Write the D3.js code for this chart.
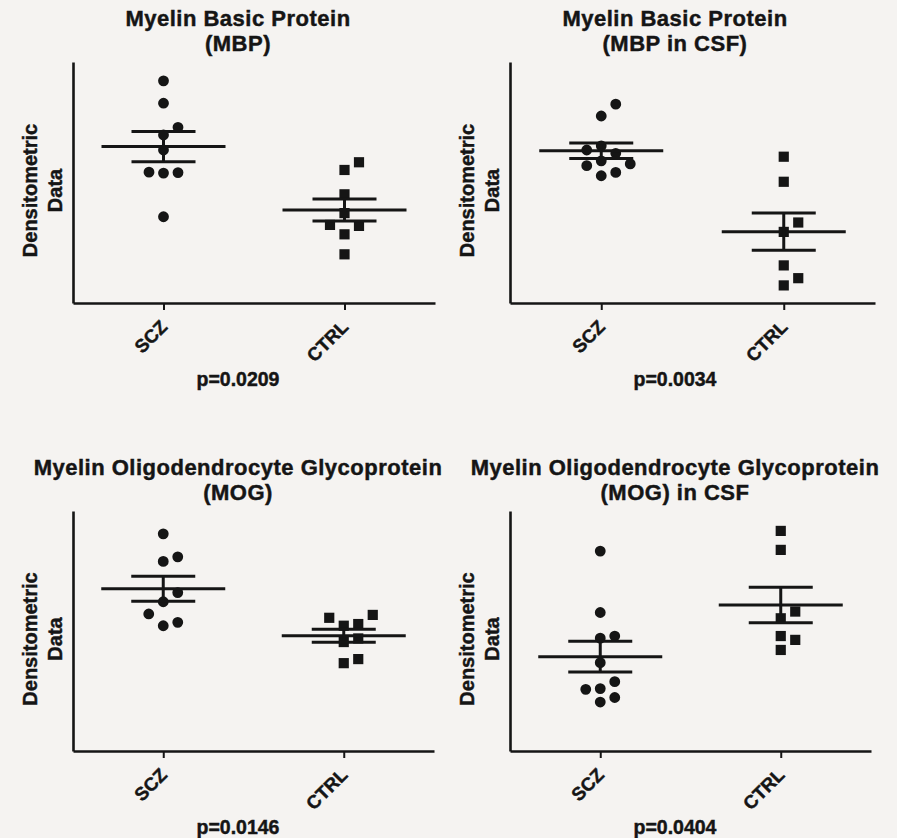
<!DOCTYPE html>
<html><head><meta charset="utf-8">
<script src="https://cdn.jsdelivr.net/npm/d3@7"></script>
<style>
html,body{margin:0;padding:0;background:#f5f3f1;}
svg{display:block;}
text{font-family:"Liberation Sans",Arial,Helvetica,sans-serif;font-weight:bold;fill:#151515;stroke:#151515;stroke-width:0.45px;}
</style></head><body>
<svg id="chart" width="897" height="838"></svg>
<script>
// ---- data (arbitrary densitometric units 0-100) ----
const categories = ["SCZ", "CTRL"];
const panelTitles = [
  ["Myelin Basic Protein", "(MBP)"],
  ["Myelin Basic Protein", "(MBP in CSF)"],
  ["Myelin Oligodendrocyte Glycoprotein", "(MOG)"],
  ["Myelin Oligodendrocyte Glycoprotein", "(MOG) in CSF"]
];
const pValues = ["p=0.0209", "p=0.0034", "p=0.0146", "p=0.0404"];
const yLabelLines = ["Densitometric", "Data"];

const mbpSCZ = [92.2, 82.9, 72.9, 69.7, 63.5, 54.3, 54.1, 53.9, 35.8];
const mbpCTRL = [58.4, 55.2, 45.1, 37.3, 32.4, 32.0, 28.5, 20.2];
const mbpCsfSCZ = [82.5, 77.6, 65.2, 63.5, 62.1, 59.0, 57.7, 57.0, 54.2, 52.8];
const mbpCsfCTRL = [60.7, 50.3, 33.4, 29.5, 15.6, 10.3, 7.3];
const mogSCZ = [90.5, 80.9, 79.0, 66.0, 62.2, 57.1, 53.6, 52.2];
const mogCTRL = [56.7, 55.5, 52.9, 52.2, 46.9, 45.4, 38.3, 36.6];
const mogCsfSCZ = [83.3, 57.7, 47.9, 47.0, 36.8, 28.9, 26.0, 25.7, 22.3, 20.4];
const mogCsfCTRL = [91.7, 83.8, 58.1, 55.3, 47.9, 46.3, 42.1];

const meanSCZ = [64.9, 63.2, 67.6, 39.3];
const semSCZ = [6.3, 3.2, 5.2, 6.4];
const meanCTRL = [38.6, 29.6, 48.0, 60.8];
const semCTRL = [4.6, 7.7, 2.7, 7.4];

const groupSCZ = [mbpSCZ, mbpCsfSCZ, mogSCZ, mogCsfSCZ];
const groupCTRL = [mbpCTRL, mbpCsfCTRL, mogCTRL, mogCsfCTRL];

// ---- layout ----
const panels = [
  {x0: 73, x1: 435, top: 62, bottom: 303},
  {x0: 510, x1: 875, top: 62, bottom: 303},
  {x0: 73, x1: 434, top: 511, bottom: 751},
  {x0: 510, x1: 871, top: 511, bottom: 751}
];
const ink = "#151515";
const svg = d3.select("#chart");

function swarm(values, y, cx, thr, step) {
  const order = values.map((v, i) => i).sort((a, b) => values[a] - values[b]);
  const placed = [];
  const out = new Array(values.length);
  for (const i of order) {
    const py = y(values[i]);
    for (let k = 0; ; k++) {
      const off = k === 0 ? 0 : (k % 2 === 1 ? Math.ceil(k / 2) : -k / 2) * step;
      const ok = placed.every(p => Math.hypot(p.x - off, p.y - py) >= thr);
      if (ok) { placed.push({x: off, y: py}); out[i] = {x: cx + off, y: py}; break; }
    }
  }
  return out;
}

panels.forEach((P, pi) => {
  const g = svg.append("g");
  const x = d3.scalePoint().domain(categories).range([P.x0, P.x1]).padding(0.5);
  const y = d3.scaleLinear().domain([0, 100]).range([P.bottom, P.top]);
  const cx = P.x0 + 165;

  // title
  const t = g.append("text").attr("text-anchor", "middle")
    .style("font-size", "22px").style("letter-spacing", "0.5px");
  t.append("tspan").attr("x", cx).attr("y", P.top - 36).text(panelTitles[pi][0]);
  t.append("tspan").attr("x", cx).attr("y", P.top - 11).text(panelTitles[pi][1]);

  // y label
  const cy = (P.top + P.bottom) / 2 + 8;
  yLabelLines.forEach((line, li) => {
    g.append("text")
      .attr("transform", `translate(${P.x0 - 36 + li * 25},${cy}) rotate(-90)`)
      .attr("text-anchor", "middle").style("font-size", "20px").text(line);
  });

  // axes
  const xa = g.append("g").attr("transform", `translate(0,${P.bottom})`)
    .call(d3.axisBottom(x).tickSize(7).tickSizeOuter(0).tickFormat(""));
  xa.select(".domain").attr("stroke", ink).attr("stroke-width", 2.6);
  xa.selectAll(".tick line").attr("stroke", ink).attr("stroke-width", 2);
  const ya = g.append("g").attr("transform", `translate(${P.x0},0)`)
    .call(d3.axisLeft(y).ticks(0).tickSizeOuter(0));
  ya.select(".domain").attr("stroke", ink).attr("stroke-width", 2.6);

  // x tick labels
  categories.forEach(c => {
    g.append("text")
      .attr("transform", `translate(${x(c) + 5},${P.bottom + 25}) rotate(-45)`)
      .attr("text-anchor", "end").style("font-size", "18.5px").text(c);
  });

  // p value
  g.append("text").attr("x", cx).attr("y", P.bottom + 83)
    .attr("text-anchor", "middle").style("font-size", "19.5px").text(pValues[pi]);

  // points
  const sets = [
    {vals: groupSCZ[pi], cat: "SCZ", sym: d3.symbolCircle, size: 92},
    {vals: groupCTRL[pi], cat: "CTRL", sym: d3.symbolSquare, size: 104}
  ];
  sets.forEach(s => {
    const pts = swarm(s.vals, y, x(s.cat), 13, 14.5);
    g.selectAll(null).data(pts).join("path")
      .attr("transform", d => `translate(${d.x},${d.y})`)
      .attr("d", d3.symbol().type(s.sym).size(s.size))
      .attr("fill", ink);
  });

  // mean +/- SEM
  const stats = [
    {cat: "SCZ", m: meanSCZ[pi], s: semSCZ[pi]},
    {cat: "CTRL", m: meanCTRL[pi], s: semCTRL[pi]}
  ];
  stats.forEach(st => {
    const px = x(st.cat);
    const line = (x1, y1, x2, y2) => g.append("line")
      .attr("x1", x1).attr("y1", y1).attr("x2", x2).attr("y2", y2)
      .attr("stroke", ink).attr("stroke-width", 3);
    line(px - 62, y(st.m), px + 62, y(st.m));
    line(px, y(st.m + st.s), px, y(st.m - st.s));
    line(px - 32, y(st.m + st.s), px + 32, y(st.m + st.s));
    line(px - 32, y(st.m - st.s), px + 32, y(st.m - st.s));
  });
});
</script>
</body></html>
